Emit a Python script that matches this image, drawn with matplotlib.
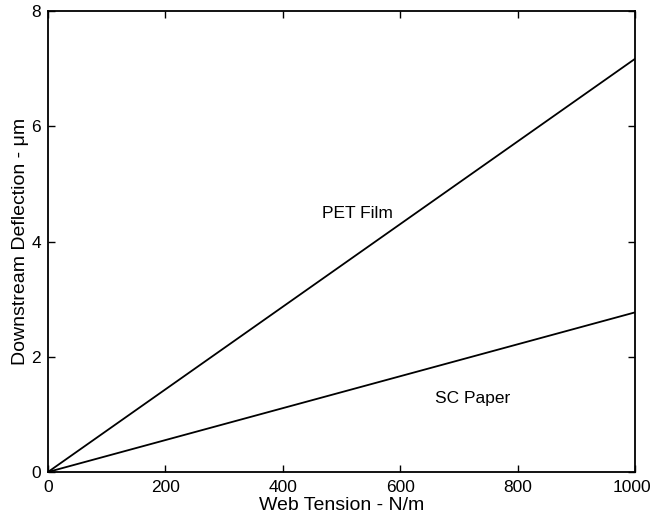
import numpy as np
import matplotlib.pyplot as plt
from matplotlib.transforms import ScaledTranslation

plt.rcParams['font.family'] = ['Liberation Sans', 'DejaVu Sans']

# web tension (N/m) and downstream deflection (um)
tension = [0, 1000]
pet_film = [0, 7.17]
sc_paper = [0, 2.77]

fig = plt.figure(figsize=(6.53, 5.2), dpi=100)
ax = fig.add_axes([48 / 653, 1 - 472 / 520, 587 / 653, 461 / 520])

ax.plot(tension, pet_film, color='black', lw=1.3)
ax.plot(tension, sc_paper, color='black', lw=1.3)

ax.text(467, 4.48, 'PET Film', fontsize=12.5, ha='left', va='center')
ax.text(659, 1.27, 'SC Paper', fontsize=12.5, ha='left', va='center')

ax.set_xlim(0, 1000)
ax.set_ylim(0, 8)
ax.set_xticks([0, 200, 400, 600, 800, 1000])
ax.set_yticks([0, 2, 4, 6, 8])
ax.tick_params(direction='in', top=True, right=True, labelsize=12.5, length=5, width=1)
ax.tick_params(axis='x', pad=6)
ax.tick_params(axis='y', pad=5)
for s in ax.spines.values():
    s.set_linewidth(1.3)

ax.set_xlabel('Web Tension - N/m', fontsize=14, labelpad=1)
ax.set_ylabel('Downstream Deflection - \u03bcm', fontsize=14, labelpad=2)

# keep the last x tick label inside the figure
fig.canvas.draw()
last = ax.get_xticklabels()[-1]
last.set_transform(last.get_transform() + ScaledTranslation(-3 / 100, 0, fig.dpi_scale_trans))

fig.savefig('out.png', dpi=100)
